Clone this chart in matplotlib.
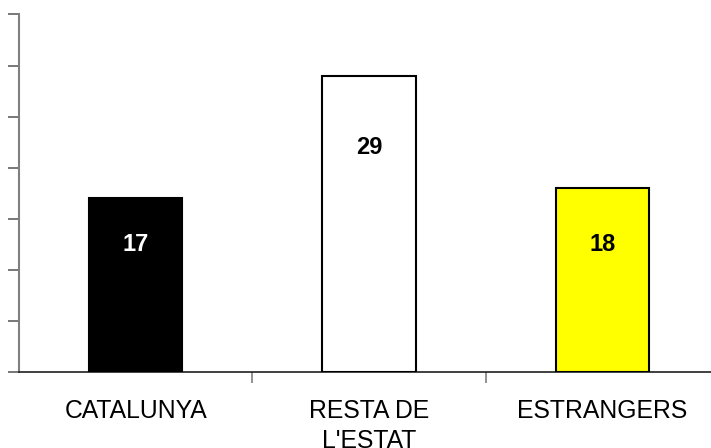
import matplotlib.pyplot as plt

categories = ['CATALUNYA', "RESTA DE\nL'ESTAT", 'ESTRANGERS']
values = [17, 29, 18]
colors = ['#000000', '#ffffff', '#ffff00']
label_colors = ['white', 'black', 'black']
label_y = [12.5, 22.0, 12.5]

plt.rcParams['font.family'] = ['Liberation Sans', 'DejaVu Sans']

fig = plt.figure(figsize=(7.11, 4.48), dpi=100)
ax = fig.add_axes([19 / 711, (448 - 372) / 448, 700 / 711, (372 - 14.5) / 448])

x = range(len(values))
ax.bar(x, values, width=0.4, color=colors, edgecolor='#000000', linewidth=1.5, zorder=3)
for i, v in enumerate(values):
    ax.text(i, label_y[i], str(v), ha='center', va='center', fontsize=17,
            fontweight='bold', color=label_colors[i], zorder=4)

ax.set_xlim(-0.5, 2.5)
ax.set_ylim(0, 35)
ax.set_yticks(range(0, 36, 5))
ax.set_yticklabels([])
ax.set_xticks([0.5, 1.5])
ax.set_xticklabels([])
ax.tick_params(axis='y', direction='out', length=8, width=1.2, color='#606060')
ax.tick_params(axis='x', direction='out', length=8, width=1.2, color='#808080')

for i, c in enumerate(categories):
    ax.text(i, -2.6, c, ha='center', va='top', fontsize=17.8, linespacing=1.32,
            clip_on=False)

for s in ['top', 'right']:
    ax.spines[s].set_visible(False)
ax.spines['left'].set_color('#808080')
ax.spines['left'].set_linewidth(1.5)
ax.spines['bottom'].set_color('#202020')
ax.spines['bottom'].set_linewidth(1.2)

fig.savefig('out.png', dpi=100)
